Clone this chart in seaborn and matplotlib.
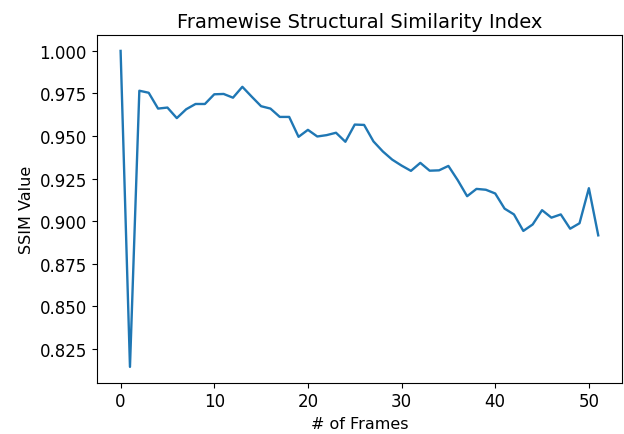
import numpy as np
import pandas as pd
import seaborn as sns
import matplotlib.pyplot as plt

# SSIM per frame
frames = list(range(52))
ssim = [1.000, 0.8143, 0.9766, 0.9754, 0.9661, 0.9667, 0.9605, 0.9657, 0.9688, 0.9688,
        0.9745, 0.9747, 0.9725, 0.9789, 0.9731, 0.9675, 0.9661, 0.9612, 0.9612, 0.9495,
        0.9536, 0.9497, 0.9505, 0.9519, 0.9466, 0.9567, 0.9565, 0.9468, 0.9409, 0.9361,
        0.9326, 0.9295, 0.9342, 0.9296, 0.9298, 0.9324, 0.9240, 0.9146, 0.9189, 0.9184,
        0.9162, 0.9073, 0.9039, 0.8942, 0.8980, 0.9064, 0.9020, 0.9039, 0.8955, 0.8987,
        0.9193, 0.8916]

df = pd.DataFrame({"frame": frames, "ssim": ssim})

fig = plt.figure(figsize=(6.24, 4.35), dpi=100)
ax = fig.add_axes([0.155, 0.118, 0.842, 0.799])
sns.lineplot(data=df, x="frame", y="ssim", ax=ax, color="#1f77b4", linewidth=1.7)
ax.set_title("Framewise Structural Similarity Index", fontsize=14)
ax.set_xlabel("# of Frames", fontsize=11.5)
ax.set_ylabel("SSIM Value", fontsize=11.5)
ax.set_yticks([0.825, 0.85, 0.875, 0.9, 0.925, 0.95, 0.975, 1.0])
ax.yaxis.set_major_formatter(plt.FormatStrFormatter("%.3f"))
ax.tick_params(labelsize=12)
fig.savefig("out.png", dpi=100)
